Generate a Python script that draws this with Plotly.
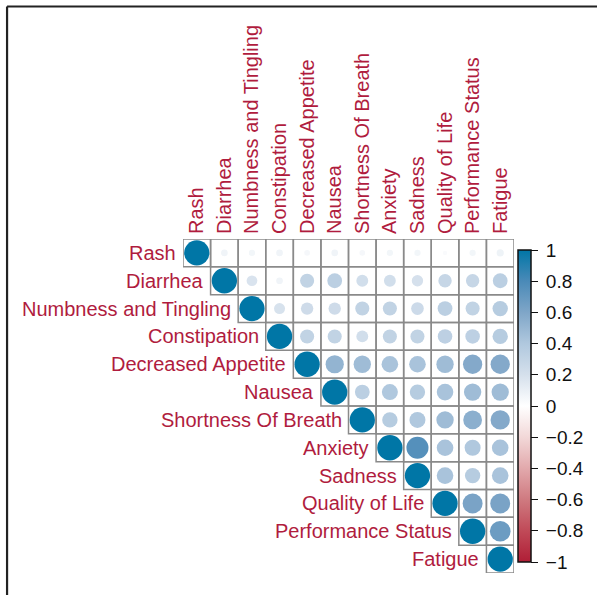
import numpy as np
import plotly.graph_objects as go

# Symptom names (row/column order of the correlation matrix)
labels = ["Rash", "Diarrhea", "Numbness and Tingling", "Constipation",
          "Decreased Appetite", "Nausea", "Shortness Of Breath", "Anxiety",
          "Sadness", "Quality of Life", "Performance Status", "Fatigue"]

# Upper-triangle correlations, each row starting right after the diagonal
rash = [0.07, 0.06, 0.07, 0.05, 0.07, 0.05, 0.06, 0.06, 0.03, 0.06, 0.08]
diarrhea = [0.18, 0.07, 0.31, 0.34, 0.22, 0.22, 0.20, 0.28, 0.28, 0.34]
numbness = [0.19, 0.24, 0.24, 0.31, 0.31, 0.25, 0.34, 0.31, 0.37]
constipation = [0.31, 0.31, 0.22, 0.31, 0.31, 0.33, 0.33, 0.37]
decreased_appetite = [0.52, 0.47, 0.43, 0.43, 0.47, 0.58, 0.58]
nausea = [0.34, 0.40, 0.37, 0.43, 0.47, 0.47]
shortness_of_breath = [0.37, 0.40, 0.47, 0.55, 0.58]
anxiety = [0.76, 0.43, 0.40, 0.43]
sadness = [0.43, 0.37, 0.43]
quality_of_life = [0.62, 0.62]
performance_status = [0.67]
fatigue = []

rows = [rash, diarrhea, numbness, constipation, decreased_appetite, nausea,
        shortness_of_breath, anxiety, sadness, quality_of_life,
        performance_status, fatigue]

# Colour bar ticks
bar_ticks = [1, 0.8, 0.6, 0.4, 0.2, 0, -0.2, -0.4, -0.6, -0.8, -1]
bar_text = ["1", "0.8", "0.6", "0.4", "0.2", "0", "\u22120.2", "\u22120.4",
            "\u22120.6", "\u22120.8", "\u22121"]

FONT = "Liberation Sans, Arial, sans-serif"
RED = "#B01C3E"
colorscale = [
    [0.0, "#B01E36"], [0.1, "#C04A58"], [0.2, "#CF7A80"], [0.3, "#E2A9AC"],
    [0.4, "#F2D8D8"], [0.5, "#FFFFFF"], [0.6, "#D5E0EC"], [0.7, "#B0C8DE"],
    [0.8, "#7FA6C8"], [0.9, "#4A8AB8"], [1.0, "#0076A6"],
]

n = len(labels)
xs, ys, vals = [], [], []
for i in range(n):
    full = [1.0] + rows[i]
    for k, v in enumerate(full):
        xs.append(i + k + 1)
        ys.append(i + 1)
        vals.append(v)
vals = np.array(vals)

FULL_D = 25.3  # circle diameter (px) for |r| = 1
sizes = FULL_D * np.sqrt(np.abs(vals))

fig = go.Figure()

# Cell borders of the upper triangle
for i in range(n):
    for j in range(i, n):
        fig.add_shape(type="rect", xref="x", yref="y",
                      x0=j + 0.5, x1=j + 1.5, y0=i + 0.5, y1=i + 1.5,
                      line=dict(color="#8a8a8a", width=1.5),
                      fillcolor="rgba(0,0,0,0)", layer="below")

fig.add_trace(go.Scatter(
    x=xs, y=ys, mode="markers",
    marker=dict(
        size=sizes, color=vals, cmin=-1, cmax=1, colorscale=colorscale,
        line=dict(width=0), opacity=1,
        colorbar=dict(
            x=1.012, xanchor="left", xpad=0, y=0.5, yanchor="middle",
            len=0.995, lenmode="fraction", thickness=13,
            outlinewidth=1.5, outlinecolor="#111111",
            tickvals=bar_ticks,
            ticktext=["\u2009" + t for t in bar_text],
            ticks="outside", ticklen=7, tickwidth=1, tickcolor="#111111",
            tickfont=dict(family=FONT, size=19, color="#111111"),
        ),
    ),
    hoverinfo="skip", showlegend=False,
))

# Row labels sit just left of each diagonal cell
for i, name in enumerate(labels):
    fig.add_annotation(x=i + 0.5, y=i + 1, xref="x", yref="y",
                       text=name, showarrow=False, xanchor="right",
                       yanchor="middle", xshift=-5,
                       font=dict(family=FONT, size=20, color=RED))

# Frame around the figure (top and left edges)
top_y = 1 + (239.3 - 7) / 333.7
left_x = -(183 - 6) / 333
fig.add_shape(type="line", xref="paper", yref="paper",
              x0=left_x, x1=2, y0=top_y, y1=top_y,
              line=dict(color="#222222", width=2.2))
fig.add_shape(type="line", xref="paper", yref="paper",
              x0=left_x, x1=left_x, y0=-1, y1=top_y,
              line=dict(color="#222222", width=2.2))

fig.update_xaxes(
    range=[0.5, n + 0.5], side="top", tickmode="array",
    tickvals=list(range(1, n + 1)), ticktext=labels, tickangle=-90,
    showgrid=False, zeroline=False, showline=False, ticks="",
    ticklabelstandoff=4,
    tickfont=dict(family=FONT, size=20, color=RED),
)
fig.update_yaxes(range=[n + 0.5, 0.5], showgrid=False, zeroline=False,
                 showline=False, showticklabels=False, ticks="")

fig.update_layout(
    width=597, height=595,
    margin=dict(l=183, r=81, t=239, b=22, pad=0),
    paper_bgcolor="white", plot_bgcolor="white",
)

fig.write_html("out.html")
